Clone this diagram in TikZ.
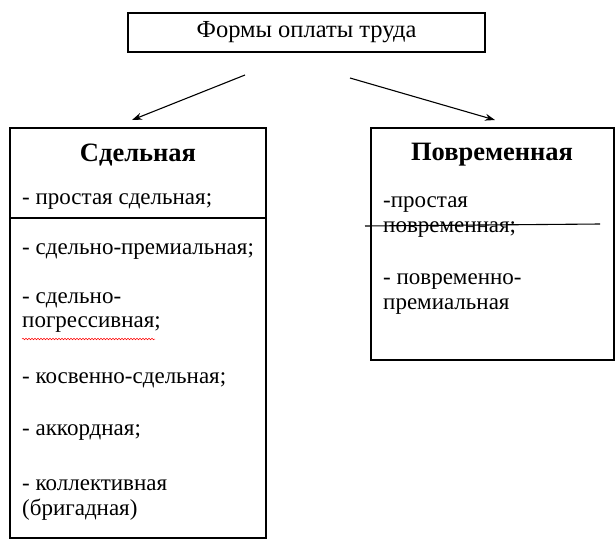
\documentclass[tikz,border=0pt]{standalone}
\usepackage{fontspec}
\setmainfont{Liberation Serif}
\usetikzlibrary{decorations.pathmorphing,arrows.meta}
\begin{document}
\begin{tikzpicture}[x=1pt,y=-1pt,
  box/.style={draw,line width=1.1pt},
  txt/.style={anchor=west,inner sep=0pt,font=\fontsize{23}{27}\selectfont},
  ttl/.style={inner sep=0pt,font=\fontsize{26.5}{30}\selectfont\bfseries},
  arr/.style={-{Stealth[length=10pt,width=7pt]},line width=1.1pt}]
\useasboundingbox (0,0) rectangle (616,547);
\node[box,minimum width=357pt,minimum height=39pt,font=\fontsize{24.5}{28}\selectfont] (top) at (306.5,32.5) {Формы оплаты труда};
\draw[box] (10,128) rectangle (266,538);
\draw[box] (371,128) rectangle (614,360);
\coordinate (a1) at (245,75); \coordinate (a2) at (132,120);
\coordinate (b1) at (350,78); \coordinate (b2) at (495,120);
\draw[arr] (a1) -- (a2);
\draw[arr] (b1) -- (b2);
\node[ttl] (s) at (138,155) {Сдельная};
\node[ttl] (p) at (492,155) {Повременная};
\draw[line width=1.1pt] (10,218) -- (266,218);
\node[txt] (l1) at (22,202) {- простая сдельная;};
\node[txt] (l2) at (22,252) {- сдельно-премиальная;};
\node[txt] (l3) at (22,300) {- сдельно-};
\node[txt] (l4) at (22,325) {погрессивная;};
\draw[red,line width=0.5pt,decorate,decoration={snake,amplitude=0.8pt,segment length=3pt}] (22,339) -- (155,339);
\node[txt] (l5) at (22,380) {- косвенно-сдельная;};
\node[txt] (l6) at (22,433) {- аккордная;};
\node[txt] (l7) at (22,485) {- коллективная};
\node[txt] (l8) at (22,510) {(бригадная)};
\node[txt] (r1) at (383,205) {-простая};
\node[txt] (r2) at (383,230) {повременная;};
\draw[line width=1.1pt] (365,226) -- (600,224);
\node[txt] (r3) at (383,282) {- повременно-};
\node[txt] (r4) at (383,307) {премиальная};
\end{tikzpicture}
\end{document}
